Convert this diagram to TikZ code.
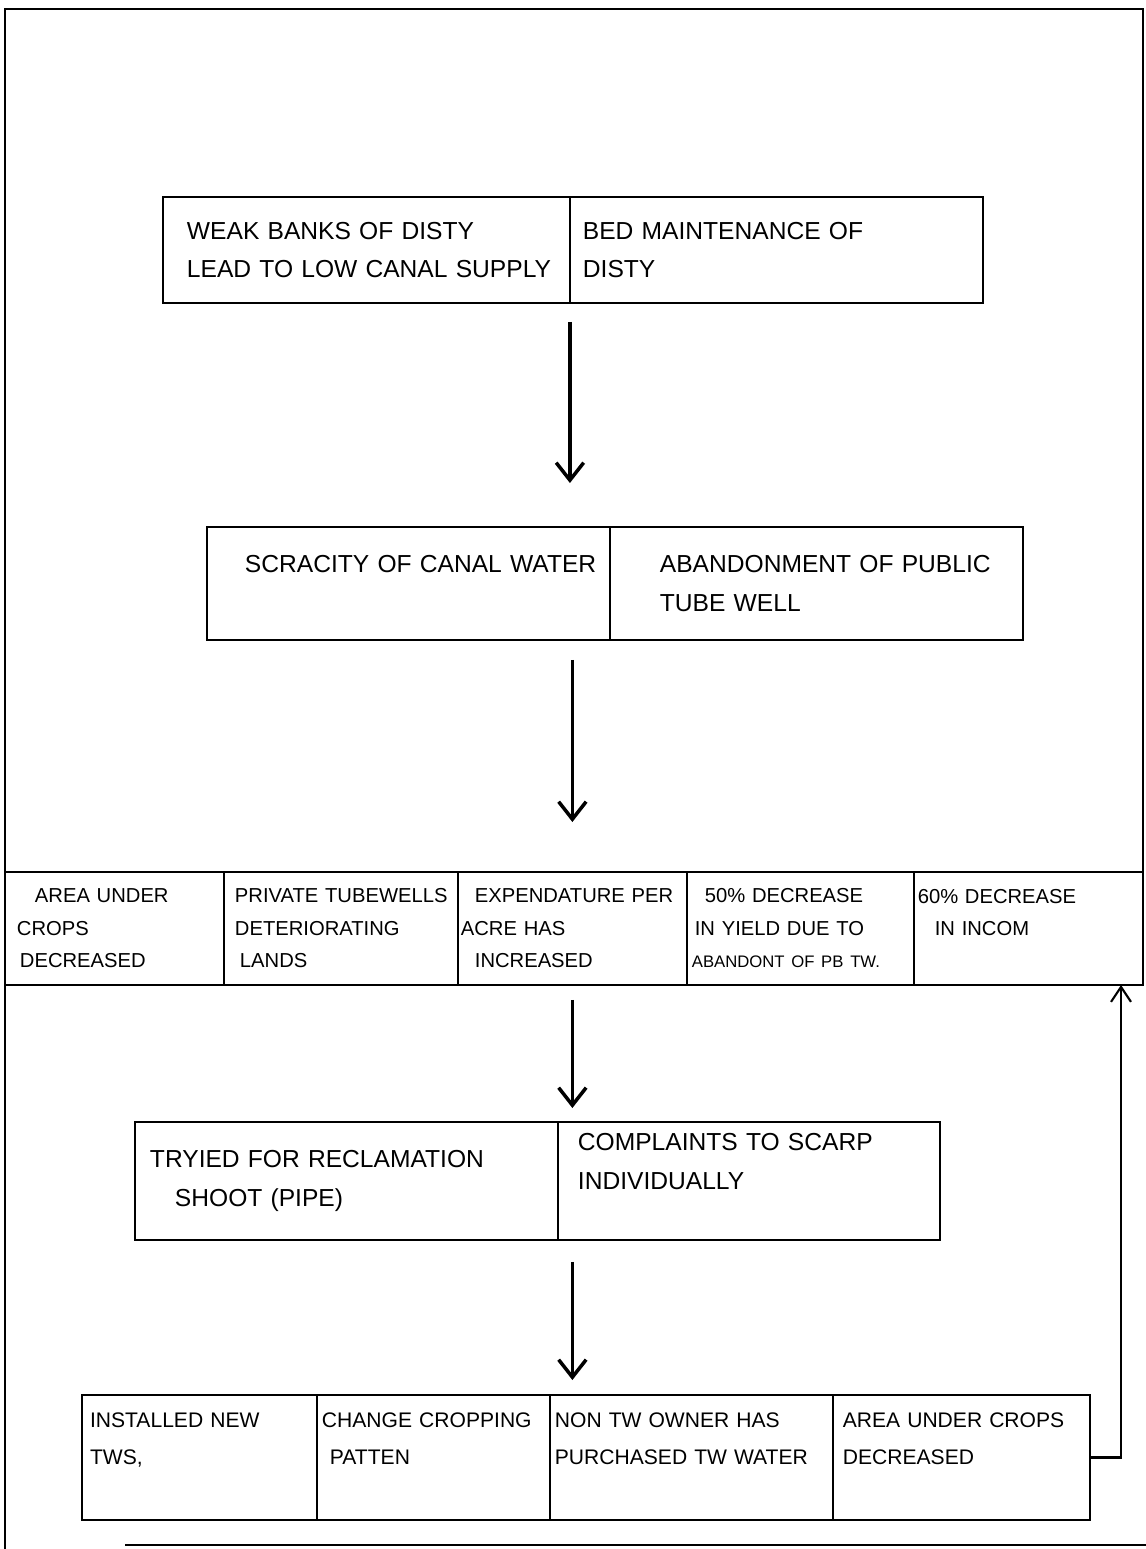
\documentclass[tikz,border=0pt]{standalone}
\usepackage{fontspec}
\setmainfont{Liberation Sans}
\usetikzlibrary{positioning,arrows.meta}

\tikzset{
  cell/.style={draw, line width=1.1pt, align=left, inner sep=0pt, outer sep=0pt},
  bigtxt/.style={font=\fontsize{14}{22}\selectfont},
  smalltxt/.style={font=\fontsize{11.5}{18.5}\selectfont},
  midtxt/.style={font=\fontsize{12}{21}\selectfont},
  flow/.style={line width=2pt, arrows={-Straight Barb[length=0.35cm,width=0.55cm]}},
  fback/.style={line width=1.2pt, arrows={-Straight Barb[length=0.3cm,width=0.4cm]}},
}
\newcommand{\ind}[1]{\hspace*{#1cm}}

\begin{document}
\begin{tikzpicture}[x=0.02cm, y=-0.02cm]
  \useasboundingbox (0,0) rectangle (1146,1549);
  % frame of the sheet
  \draw[line width=1.1pt] (5,1549) -- (5,9) -- (1143,9) -- (1143,872);
  \draw[line width=1.1pt] (125,1545) -- (1146,1545);

  % causes
  \node[cell, bigtxt, anchor=north west, text width=8.14cm, minimum height=2.12cm] (b1a) at (163,197)
    {\ind{0.48}WEAK BANKS OF DISTY\\\ind{0.48}LEAD TO LOW CANAL SUPPLY};
  \node[cell, bigtxt, right=0pt of b1a, text width=8.26cm, minimum height=2.12cm] (b1b)
    {\ind{0.26}BED MAINTENANCE OF\\\ind{0.26}DISTY};

  \node[cell, bigtxt, anchor=north west, text width=8.06cm, minimum height=2.26cm] (b2a) at (207,527)
    {\ind{0.76}SCRACITY OF CANAL WATER\\\mbox{}};
  \node[cell, bigtxt, right=0pt of b2a, text width=8.26cm, minimum height=2.26cm] (b2b)
    {\ind{1.0}ABANDONMENT OF PUBLIC\\\ind{1.0}TUBE WELL};

  % effects
  \node[cell, smalltxt, anchor=north west, text width=4.38cm, minimum height=2.26cm] (r3a) at (5,872)
    {\ind{0.6}AREA UNDER\\\ind{0.24}CROPS\\\ind{0.3}DECREASED};
  \node[cell, smalltxt, right=0pt of r3a, text width=4.68cm, minimum height=2.26cm] (r3b)
    {\ind{0.22}PRIVATE TUBEWELLS\\\ind{0.22}DETERIORATING\\\ind{0.32}LANDS};
  \node[cell, smalltxt, right=0pt of r3b, text width=4.58cm, minimum height=2.26cm] (r3c)
    {\ind{0.34}EXPENDATURE PER\\\ind{0.06}ACRE HAS\\\ind{0.34}INCREASED};
  \node[cell, smalltxt, right=0pt of r3c, text width=4.54cm, minimum height=2.26cm] (r3d)
    {\ind{0.36}50\% DECREASE\\\ind{0.16}IN YIELD DUE TO\\\ind{0.1}{\fontsize{9.5}{18.5}\selectfont ABANDONT OF PB TW.}};
  \node[cell, smalltxt, right=0pt of r3d, text width=4.58cm, minimum height=2.26cm] (r3e)
    {\ind{0.08}60\% DECREASE\\\ind{0.42}IN INCOM\\\mbox{}};

  % responses
  \node[cell, bigtxt, anchor=north west, text width=8.46cm, minimum height=2.36cm] (b4a) at (135,1122)
    {\ind{0.3}TRYIED FOR RECLAMATION\\\ind{0.8}SHOOT (PIPE)};
  \node[cell, bigtxt, right=0pt of b4a, text width=7.64cm, minimum height=2.36cm] (b4b)
    {\ind{0.4}COMPLAINTS TO SCARP\\\ind{0.4}INDIVIDUALLY\\\mbox{}};

  \node[cell, midtxt, anchor=north west, text width=4.7cm, minimum height=2.5cm] (b5a) at (82,1395)
    {\ind{0.16}INSTALLED NEW\\\ind{0.16}TWS,\\\mbox{}};
  \node[cell, midtxt, right=0pt of b5a, text width=4.66cm, minimum height=2.5cm] (b5b)
    {\ind{0.1}CHANGE CROPPING\\\ind{0.26}PATTEN\\\mbox{}};
  \node[cell, midtxt, right=0pt of b5b, text width=5.66cm, minimum height=2.5cm] (b5c)
    {\ind{0.1}NON TW OWNER HAS\\\ind{0.1}PURCHASED TW WATER\\\mbox{}};
  \node[cell, midtxt, right=0pt of b5c, text width=5.14cm, minimum height=2.5cm] (b5d)
    {\ind{0.2}AREA UNDER CROPS\\\ind{0.2}DECREASED\\\mbox{}};

  % arrows
  \draw[flow, shorten <=0.38cm, shorten >=0.88cm] (b1a.south east) -- (b1a.south east |- b2a.north);
  \draw[flow, shorten <=0.4cm, shorten >=1cm] (r3c.north |- b2a.south) -- (r3c.north);
  \draw[flow, shorten <=0.3cm, shorten >=0.28cm] (r3c.south) -- (r3c.south |- b4a.north);
  \draw[flow, shorten <=0.44cm, shorten >=0.3cm] (r3c.south |- b4a.south) -- (r3c.south |- b5a.north);
  \coordinate (fbk) at (1121,1449);
  \draw[fback] (b5d.east) -| (fbk |- r3e.south);
\end{tikzpicture}
\end{document}
